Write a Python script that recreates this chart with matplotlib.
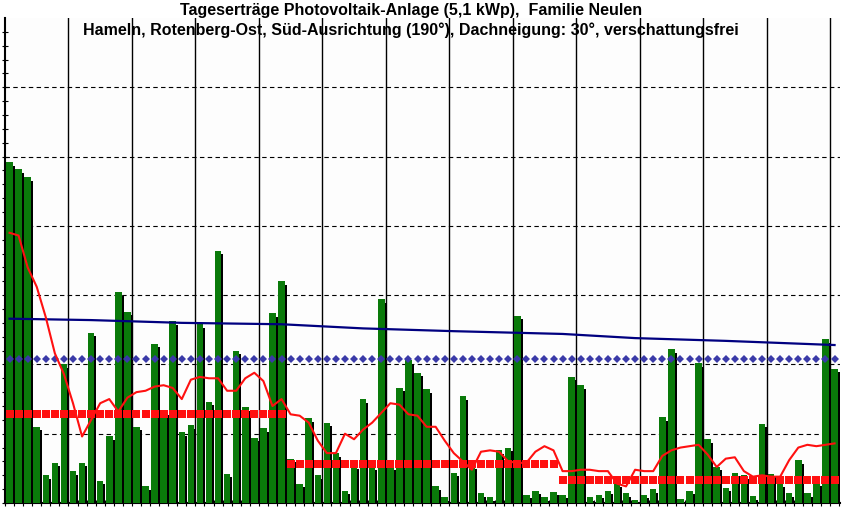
import matplotlib
matplotlib.use("Agg")
import matplotlib.pyplot as plt
import numpy as np

days = list(range(1, 93))
yield_kwh = [24.6,24.1,23.5,5.5,2.0,2.9,10.0,2.3,2.9,12.3,1.6,4.8,15.2,13.8,5.5,1.2,11.5,6.6,13.1,5.1,
             5.6,12.9,7.3,18.2,2.1,11.0,6.9,4.7,5.4,13.7,16.0,
             3.2,1.4,6.1,2.0,5.8,3.6,0.9,2.7,7.5,2.6,14.7,2.6,8.3,10.3,9.4,8.2,1.2,0.4,2.2,
             7.7,2.7,0.7,0.4,3.8,4.0,13.5,0.6,0.9,0.4,0.8,
             0.6,9.1,8.5,0.4,0.6,0.9,1.4,0.7,0.2,0.6,1.0,6.2,11.1,0.3,0.9,10.1,4.6,2.6,1.1,
             2.2,2.0,0.5,5.7,2.1,1.4,0.7,3.1,0.7,1.5,11.8,9.7]
avg_line = [19.5,19.3,17.0,15.6,13.4,10.8,9.3,7.2,4.8,6.0,7.2,7.5,6.6,7.6,8.0,8.1,8.4,8.5,8.3,7.5,
            8.9,9.1,9.0,9.0,8.1,8.1,9.0,9.4,8.8,7.0,7.5,
            6.4,6.3,5.8,4.5,3.6,3.6,5.0,4.6,5.3,5.8,6.5,7.2,7.1,6.4,6.3,5.5,5.5,4.5,3.6,
            3.0,2.4,3.7,3.8,3.7,3.0,2.9,2.9,3.7,4.1,3.8,
            2.3,2.3,2.4,2.4,2.3,2.3,1.4,1.2,2.4,2.3,2.3,3.4,3.8,4.0,4.1,4.2,3.5,2.6,3.2,
            3.3,2.3,1.9,2.0,1.9,1.9,3.1,4.0,4.2,4.1,4.2,4.3]
month_days = [31, 30, 31]
month_mean = [6.4, 2.8, 1.65]
forecast_x = [1, 10, 20, 31, 40, 50, 62, 70, 80, 92]
forecast_y = [13.3, 13.2, 13.0, 12.9, 12.6, 12.4, 12.2, 11.9, 11.7, 11.4]
overall_mean = 10.4

fig = plt.figure(figsize=(8.44, 5.09), dpi=100)
ax = fig.add_axes([5/844, 6/509, 835/844, 485/509])
ax.set_facecolor("#fdfdfd")
x = np.array(days)
shadow = [max(v - 0.25, 0) for v in yield_kwh]
ax.bar(x + 0.22, shadow, width=0.72, color="black", zorder=2)
ax.bar(x, yield_kwh, width=0.72, color="#0a7a0a", zorder=3)

start = 1
for n, m in zip(month_days, month_mean):
    xs = np.arange(start, start + n)
    ax.plot(xs, [m] * n, ls="none", marker="s", ms=5.2, mew=0, color="#ff1010", zorder=4)
    start += n
ax.plot(x, [overall_mean] * len(x), ls="none", marker="D", ms=4.2, mew=0, color="#3a3aa8", zorder=4)
ax.plot(forecast_x, forecast_y, color="#000080", lw=1.6, zorder=5)
ax.plot(x, avg_line, color="#ff1010", lw=1.5, zorder=6)

ax.set_xlim(0.55, 92.6)
ax.set_ylim(0, 35)
for v in np.arange(7.5, 92, 7):
    ax.axvline(v, color="black", lw=1, zorder=1)
for h in range(5, 35, 5):
    ax.axhline(h, color="black", lw=0.8, ls=(0, (4, 3)), zorder=1)
ax.set_xticks(np.arange(0.5, 93, 1))
ax.set_yticks(np.arange(0, 35, 1))
ax.tick_params(axis="both", direction="inout", length=5, labelleft=False, labelbottom=False)
for s in ["top", "right"]:
    ax.spines[s].set_visible(False)
ax.spines["left"].set_linewidth(1.5)
ax.spines["bottom"].set_linewidth(1.5)

fig.text(0.487, 1 - 11/509, "Tageserträge Photovoltaik-Anlage (5,1 kWp),  Familie Neulen",
         ha="center", va="center", fontsize=11.5, fontweight="bold", family="Liberation Sans")
fig.text(0.487, 1 - 30/509, "Hameln, Rotenberg-Ost, Süd-Ausrichtung (190°), Dachneigung: 30°, verschattungsfrei",
         ha="center", va="center", fontsize=11.5, fontweight="bold", family="Liberation Sans")
fig.savefig("out.png", dpi=100)
